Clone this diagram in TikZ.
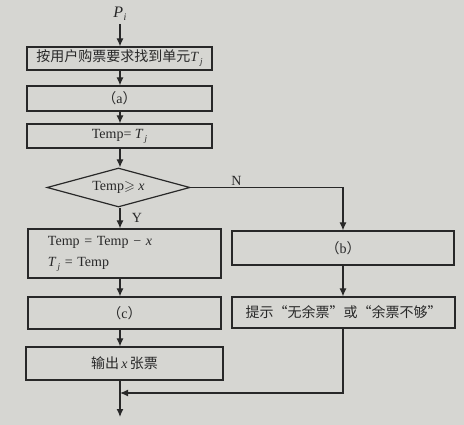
\documentclass[tikz,border=0pt]{standalone}
\usepackage{amssymb}
\usepackage{fontspec}
\setmainfont{Liberation Serif}
\newfontfamily\cjk{Noto Sans CJK SC}
\usetikzlibrary{shapes.geometric,arrows.meta}
\definecolor{paper}{RGB}{214,214,210}
\definecolor{ink}{RGB}{40,40,40}
\newcommand{\iv}[1]{\textit{#1}}
\newcommand{\Tj}{\textit{T}\kern1pt\raisebox{-3pt}{\fontsize{9}{9}\selectfont\textit{j}}}
\begin{document}
\begin{tikzpicture}[x=1pt,y=-1pt,
  every node/.style={text=ink,font=\fontsize{14}{16}\selectfont},
  box/.style={draw=ink,line width=1.2pt,rectangle,inner sep=0pt},
  dia/.style={draw=ink,line width=1.2pt,diamond,aspect=3.67,inner sep=0pt,minimum width=143pt,minimum height=39pt},
  arr/.style={draw=ink,line width=1.2pt,-{Latex[length=8pt,width=7pt]}},
  ln/.style={draw=ink,line width=1.2pt}]
\fill[paper] (0,0) rectangle (464,425);
\useasboundingbox (0,0) rectangle (464,425);
\coordinate (cx) at (120,0);
\coordinate (rx) at (343,0);
\node[font=\fontsize{16}{18}\selectfont] (p) at (120,14) {\textit{P}\kern0.5pt\raisebox{-3pt}{\fontsize{10}{10}\selectfont\textit{i}}};
\node[box,minimum width=185pt,minimum height=23pt] (b1) at (119.5,58.5) {{\cjk 按用户购票要求找到单元}\Tj};
\node[box,minimum width=185pt,minimum height=25pt] (b2) at (119.5,98.5) {{\cjk （}a{\cjk ）}};
\node[box,minimum width=185pt,minimum height=24pt] (b3) at (119.5,136) {Temp= \Tj};
\node[dia] (d) at (118.5,187.5) {Temp$\geqslant$ \iv{x}};
\node[box,minimum width=193pt,minimum height=49pt,text width=153pt,align=left,inner xsep=20pt] (by) at (124.5,253.5) {Temp = Temp − \iv{x}\\[5pt]\Tj\ = Temp};
\node[box,minimum width=222pt,minimum height=34pt] (bb) at (343,248) {{\cjk （}b{\cjk ）}};
\node[box,minimum width=193pt,minimum height=32pt] (bc) at (124.5,313) {{\cjk （}c{\cjk ）}};
\node[box,minimum width=223pt,minimum height=31pt] (bd) at (343.5,312.5) {{\cjk 提示“无余票”或“余票不够”}};
\node[box,minimum width=197pt,minimum height=33pt] (bo) at (124.5,363.5) {{\cjk 输出}\,\iv{x}\,{\cjk 张票}};
\coordinate (join) at (120,393);
\coordinate (end) at (120,417);
\draw[arr] (p.south) -- (b1.north -| cx);
\draw[arr] (b1.south -| cx) -- (b2.north -| cx);
\draw[arr] (b2.south -| cx) -- (b3.north -| cx);
\draw[arr] (b3.south -| cx) -- (d.north -| cx);
\draw[arr] (d.south -| cx) -- node[right=8pt,pos=0.5] (ylab) {Y} (by.north -| cx);
\draw[arr] (d.east) -- node[above,pos=0.3,inner sep=1pt] (nlab) {N} (d.east -| rx) -- (bb.north -| rx);
\draw[arr] (bb.south -| rx) -- (bd.north -| rx);
\draw[arr] (by.south -| cx) -- (bc.north -| cx);
\draw[arr] (bc.south -| cx) -- (bo.north -| cx);
\draw[arr] (bd.south -| rx) |- (join);
\draw[arr] (bo.south -| cx) -- (end);
\end{tikzpicture}
\end{document}
